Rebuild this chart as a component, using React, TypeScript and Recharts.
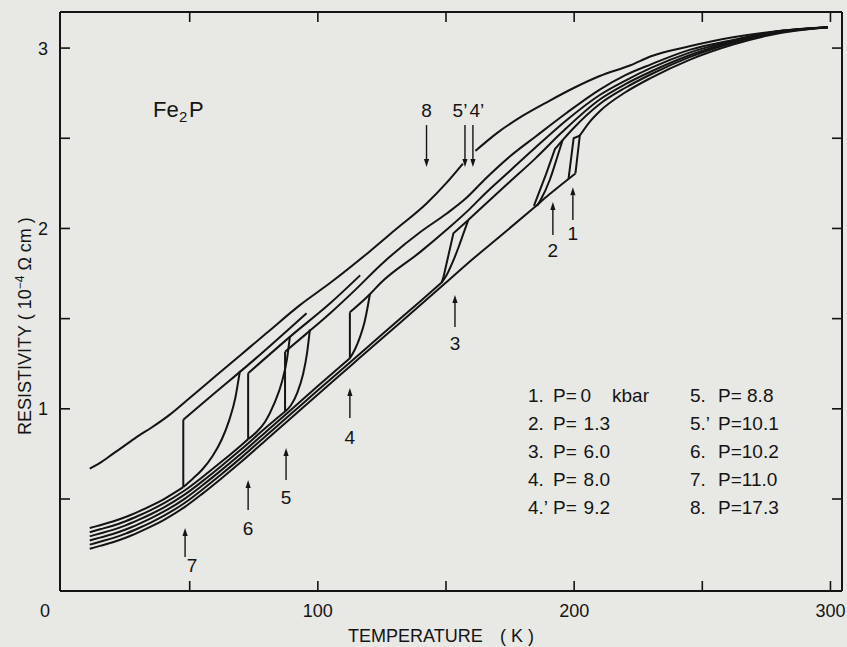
import React from 'react';
import { LineChart, Line, XAxis, YAxis, ReferenceLine } from 'recharts';

type Pt = [number, number];

// ---------- axes ----------
const xTicks = [0, 50, 100, 150, 200, 250, 300];
const xTickLabels: Record<number, string> = { 0: '0', 100: '100', 200: '200', 300: '300' };
const yTicks = [0.5, 1, 1.5, 2, 2.5, 3];
const yTickLabels: Record<number, string> = { 1: '1', 2: '2', 3: '3' };
const xDomain: [number, number] = [-0.6, 304.5];
const yDomain: [number, number] = [-0.01, 3.2];

// ---------- curve 8 (P = 17.3) ----------
const curve8a: Pt[] = [[11, 0.668], [15, 0.70], [20, 0.75], [25, 0.80], [30, 0.85], [35, 0.895], [42, 0.965], [50, 1.06], [60, 1.18], [70, 1.30], [80, 1.42], [93, 1.575], [105, 1.70], [120, 1.87], [130, 1.99], [142.5, 2.14], [150, 2.25], [156.6, 2.36]];
const curve8b: Pt[] = [[161.5, 2.43], [170, 2.53], [180, 2.625], [190, 2.705], [200, 2.78], [210, 2.845], [222, 2.905], [230, 2.955], [245, 3.01], [262, 3.06], [280, 3.095], [299, 3.116]];

// ---------- low-temperature (ferromagnetic) branches ----------
const lower12: Pt[] = [[11, 0.224], [15, 0.240], [20, 0.260], [25, 0.285], [30, 0.315], [35, 0.348], [40, 0.385], [48, 0.455], [55, 0.530], [62, 0.610], [70, 0.705], [80, 0.830], [90, 0.955], [100, 1.080], [112.5, 1.235], [125, 1.390], [140, 1.575], [150, 1.700], [160, 1.825], [171, 1.955], [184.3, 2.115], [190, 2.185], [200.5, 2.305]];
const lower3: Pt[] = [[11, 0.247], [15, 0.263], [20, 0.283], [25, 0.308], [30, 0.338], [35, 0.371], [40, 0.408], [48, 0.478], [55, 0.553], [62, 0.633], [70, 0.728], [80, 0.853], [90, 0.978], [100, 1.103], [112.5, 1.257], [125, 1.412], [140, 1.597], [148.3, 1.70]];
const lower4: Pt[] = [[11, 0.270], [15, 0.286], [20, 0.306], [25, 0.331], [30, 0.361], [35, 0.394], [40, 0.431], [48, 0.501], [55, 0.576], [62, 0.656], [70, 0.751], [80, 0.876], [90, 1.001], [100, 1.126], [112.5, 1.28]];
const lower5: Pt[] = [[11, 0.293], [15, 0.309], [20, 0.329], [25, 0.354], [30, 0.384], [35, 0.417], [40, 0.454], [48, 0.524], [55, 0.599], [62, 0.679], [70, 0.774], [80, 0.899], [87.2, 0.985]];
const lower6: Pt[] = [[11, 0.316], [15, 0.332], [20, 0.352], [25, 0.377], [30, 0.407], [35, 0.440], [40, 0.477], [48, 0.547], [55, 0.622], [62, 0.702], [70, 0.797], [72.8, 0.832]];
const lower7: Pt[] = [[11, 0.339], [15, 0.355], [20, 0.375], [25, 0.400], [30, 0.430], [35, 0.463], [40, 0.500], [47.5, 0.566]];

// ---------- transitions (jumps / hysteresis loops) ----------
const jump7: Pt[] = [[47.5, 0.566], [47.5, 0.94]];
const jump6: Pt[] = [[72.8, 0.832], [72.8, 1.197]];
const jump5: Pt[] = [[87.2, 0.985], [87.2, 1.316]];
const jump4: Pt[] = [[112.5, 1.28], [112.5, 1.535]];
const loop3: Pt[] = [[148.3, 1.70], [149, 1.73], [152.9, 1.973], [158.7, 2.047]];
const loop2: Pt[] = [[184.3, 2.125], [189, 2.30], [192.5, 2.44], [195.5, 2.49]];
const loop1: Pt[] = [[197.8, 2.275], [199.8, 2.50], [202.2, 2.515], [200.5, 2.305]];

const return7: Pt[] = [[47.5, 0.566], [51, 0.61], [55, 0.665], [59, 0.74], [62.5, 0.83], [65.5, 0.94], [67.8, 1.06], [69.6, 1.21]];
const return6: Pt[] = [[72.8, 0.832], [76, 0.87], [79.5, 0.93], [83, 1.03], [86, 1.15], [88, 1.28], [89.1, 1.40]];
const return5: Pt[] = [[87.2, 0.985], [89.5, 1.02], [92, 1.09], [94.2, 1.19], [95.8, 1.31], [96.9, 1.44]];
const return4: Pt[] = [[112.5, 1.28], [114.5, 1.33], [116.5, 1.40], [118.2, 1.48], [119.5, 1.57], [120.3, 1.635]];
const return3: Pt[] = [[148.3, 1.70], [150.2, 1.74], [152.5, 1.81], [155, 1.90], [157, 1.98], [158.7, 2.047]];
const return2: Pt[] = [[185.5, 2.125], [187, 2.16], [190.5, 2.27], [193.5, 2.40], [195.5, 2.49]];

// ---------- high-temperature (paramagnetic) branches ----------
const upper7: Pt[] = [[47.5, 0.94], [60, 1.09], [75, 1.27], [95.6, 1.53]];
const upper6: Pt[] = [[72.8, 1.197], [90, 1.41], [104.8, 1.585], [116.5, 1.74]];
const upper5: Pt[] = [[87.2, 1.316], [95, 1.41], [104.8, 1.53], [115, 1.665], [124.3, 1.795], [140, 1.98], [150, 2.08], [158, 2.17], [165, 2.27], [175, 2.40], [185, 2.51], [197, 2.64], [210, 2.77], [220, 2.85], [230, 2.91], [245, 2.99], [262, 3.045], [280, 3.095], [299, 3.116]];
const upper4: Pt[] = [[112.5, 1.535], [120.3, 1.635], [124.3, 1.695], [140, 1.87], [150, 1.99], [159.4, 2.11], [165, 2.19], [175, 2.32], [185, 2.45], [197, 2.60], [210, 2.74], [220, 2.82], [230, 2.89], [245, 2.975], [262, 3.04], [280, 3.093], [299, 3.116]];
const upper3: Pt[] = [[158.7, 2.047], [165, 2.13], [175, 2.26], [185, 2.39], [195, 2.53], [210, 2.715], [220, 2.80], [230, 2.87], [245, 2.96], [262, 3.035], [280, 3.09], [299, 3.116]];
const upper2: Pt[] = [[195.5, 2.49], [200, 2.56], [210, 2.69], [220, 2.78], [230, 2.855], [245, 2.95], [262, 3.03], [280, 3.087], [299, 3.116]];
const upper1: Pt[] = [[202.2, 2.515], [206, 2.59], [210, 2.65], [220, 2.755], [230, 2.835], [245, 2.935], [262, 3.02], [280, 3.082], [299, 3.116]];

// ---------- arrows (label, temperature, tail rho, tip rho) ----------
const arrowLabels = ['8', '5’', '4’', '2', '1', '3', '4', '5', '6', '7'];
const arrowT = [142.4, 157.4, 160.5, 191.7, 199.5, 153.5, 112.5, 87.6, 72.8, 48.2];
const arrowTail = [2.573, 2.573, 2.573, 1.963, 2.047, 1.453, 0.949, 0.605, 0.439, 0.178];
const arrowTip = [2.340, 2.340, 2.340, 2.146, 2.229, 1.631, 1.115, 0.783, 0.605, 0.339];

// ---------- legend ----------
const legendCol1Keys = ['1.', '2.', '3.', '4.', '4.’'];
const legendCol1Vals = ['0', '1.3', '6.0', '8.0', '9.2'];
const legendCol2Keys = ['5.', '5.’', '6.', '7.', '8.'];
const legendCol2Vals = ['P= 8.8', 'P=10.1', 'P=10.2', 'P=11.0', 'P=17.3'];

// ---------- styles ----------
const INK = '#141414';
const BG = '#e8e8e5';
const FONT = '"Liberation Sans", Arial, sans-serif';
const labelOffsets: Record<string, [number, number]> = {
  '8': [0, -15], '5’': [-5, -15], '4’': [4, -15],
  '2': [0, 15], '1': [0, 13], '3': [0, 16], '4': [0, 19], '5': [0, 17], '6': [0, 18], '7': [7, 8],
};

const smoothSeries: Pt[][] = [curve8a, curve8b, lower12, lower3, lower4, lower5, lower6, lower7,
  return7, return6, return5, return4, return3, return2,
  upper7, upper6, upper5, upper4, upper3, upper2, upper1];
const linearSeries: Pt[][] = [jump7, jump6, jump5, jump4, loop3, loop2, loop1];

const toRows = (pts: Pt[]) => pts.map(([T, r]) => ({ T, r }));

const BottomTick = (props: any) => {
  const { x, y, payload } = props;
  const v = payload.value;
  const lab = xTickLabels[v];
  return (
    <g>
      {v !== 0 && <line x1={x} y1={y} x2={x} y2={y - 10} stroke={INK} strokeWidth={1.6} />}
      {lab && (
        <text x={v === 0 ? x - 16.5 : x} y={y + 26} textAnchor="middle" fontSize={18} fontFamily={FONT} fill={INK}>{lab}</text>
      )}
    </g>
  );
};
const TopTick = (props: any) => {
  const { x, y } = props;
  return <line x1={x} y1={y} x2={x} y2={y + 10} stroke={INK} strokeWidth={1.6} />;
};
const LeftTick = (props: any) => {
  const { x, y, payload } = props;
  const lab = yTickLabels[payload.value];
  return (
    <g>
      <line x1={x} y1={y} x2={x + 10} y2={y} stroke={INK} strokeWidth={1.6} />
      {lab && (
        <text x={x - 17} y={y + 6.5} textAnchor="middle" fontSize={18} fontFamily={FONT} fill={INK}>{lab}</text>
      )}
    </g>
  );
};
const RightTick = (props: any) => {
  const { x, y } = props;
  return <line x1={x} y1={y} x2={x - 10} y2={y} stroke={INK} strokeWidth={1.6} />;
};

const makeArrow = (label: string) => (p: any) => {
  const { x1, y1, x2, y2 } = p;
  if ([x1, y1, x2, y2].some((v) => typeof v !== 'number' || isNaN(v))) return <g />;
  const dir = y2 > y1 ? 1 : -1;
  const headLen = 8;
  const hw = 2.6;
  const baseY = y2 - dir * headLen;
  const [dx, dy] = labelOffsets[label] || [0, 0];
  return (
    <g>
      <line x1={x1} y1={y1} x2={x2} y2={baseY} stroke={INK} strokeWidth={1.4} />
      <polygon points={`${x2},${y2} ${x2 - hw},${baseY} ${x2 + hw},${baseY}`} fill={INK} />
      <text x={x1 + dx} y={y1 + dy + 7} textAnchor="middle" fontSize={19} fontFamily={FONT} fill={INK}>{label}</text>
    </g>
  );
};

export default function App() {
  const W = 847;
  const H = 647;
  return (
    <div style={{ position: 'absolute', left: 0, top: 0, width: W, height: H, background: BG }}>
      <LineChart width={W} height={H} margin={{ top: 0, right: 0, bottom: 0, left: 0 }}>
        <XAxis dataKey="T" type="number" domain={xDomain} ticks={xTicks} allowDataOverflow
          height={56} tickSize={0} tickMargin={0} tickLine={false}
          axisLine={{ stroke: INK, strokeWidth: 2 }} tick={BottomTick} interval={0} />
        <XAxis xAxisId="top" orientation="top" dataKey="T" type="number" domain={xDomain} ticks={xTicks.slice(1)} allowDataOverflow
          height={12} tickSize={0} tickMargin={0} tickLine={false}
          axisLine={{ stroke: INK, strokeWidth: 2 }} tick={TopTick} interval={0} />
        <YAxis type="number" domain={yDomain} ticks={yTicks} allowDataOverflow width={60}
          tickSize={0} tickMargin={0} tickLine={false} axisLine={{ stroke: INK, strokeWidth: 2 }} tick={LeftTick} interval={0} />
        <YAxis yAxisId="right" orientation="right" type="number" domain={yDomain} ticks={yTicks} allowDataOverflow width={5}
          tickSize={0} tickMargin={0} tickLine={false} axisLine={{ stroke: INK, strokeWidth: 2 }} tick={RightTick} interval={0} />
        {smoothSeries.map((pts, i) => (
          <Line key={`s${i}`} data={toRows(pts)} dataKey="r" type="monotone" dot={false} activeDot={false}
            stroke={INK} strokeWidth={2} isAnimationActive={false} />
        ))}
        {linearSeries.map((pts, i) => (
          <Line key={`l${i}`} data={toRows(pts)} dataKey="r" type="linear" dot={false} activeDot={false}
            stroke={INK} strokeWidth={2} isAnimationActive={false} />
        ))}
        {arrowLabels.map((lab, i) => (
          <ReferenceLine key={`a${i}`} segment={[{ x: arrowT[i], y: arrowTail[i] }, { x: arrowT[i], y: arrowTip[i] }]}
            ifOverflow="visible" shape={makeArrow(lab)} />
        ))}
      </LineChart>
      <svg width={W} height={H} style={{ position: 'absolute', left: 0, top: 0, pointerEvents: 'none' }}>
        <g fontFamily={FONT} fill={INK}>
          <text x={153} y={117} fontSize={22}>Fe</text>
          <text x={179} y={122} fontSize={15}>2</text>
          <text x={189} y={117} fontSize={22}>P</text>
          {legendCol1Keys.map((k, i) => (
            <g key={`c1${i}`} fontSize={19}>
              <text x={528} y={402 + i * 28}>{k}</text>
              <text x={553} y={402 + i * 28}>P=</text>
              <text x={i === 0 ? 591 : 610} y={402 + i * 28} textAnchor="end">{legendCol1Vals[i]}</text>
              {i === 0 && <text x={612} y={402}>kbar</text>}
            </g>
          ))}
          {legendCol2Keys.map((k, i) => (
            <g key={`c2${i}`} fontSize={19}>
              <text x={690} y={402 + i * 28}>{k}</text>
              <text x={718} y={402 + i * 28} xmlSpace="preserve">{legendCol2Vals[i]}</text>
            </g>
          ))}
          <text x={348} y={642} fontSize={18}>TEMPERATURE</text>
          <text x={500} y={642} fontSize={18}>( K )</text>
          <text transform="rotate(-90)" x={-435} y={31} fontSize={18}>
            RESISTIVITY ( 10<tspan dy={-7} fontSize={12}>−4</tspan><tspan dy={7}> Ω cm )</tspan>
          </text>
        </g>
      </svg>
    </div>
  );
}
